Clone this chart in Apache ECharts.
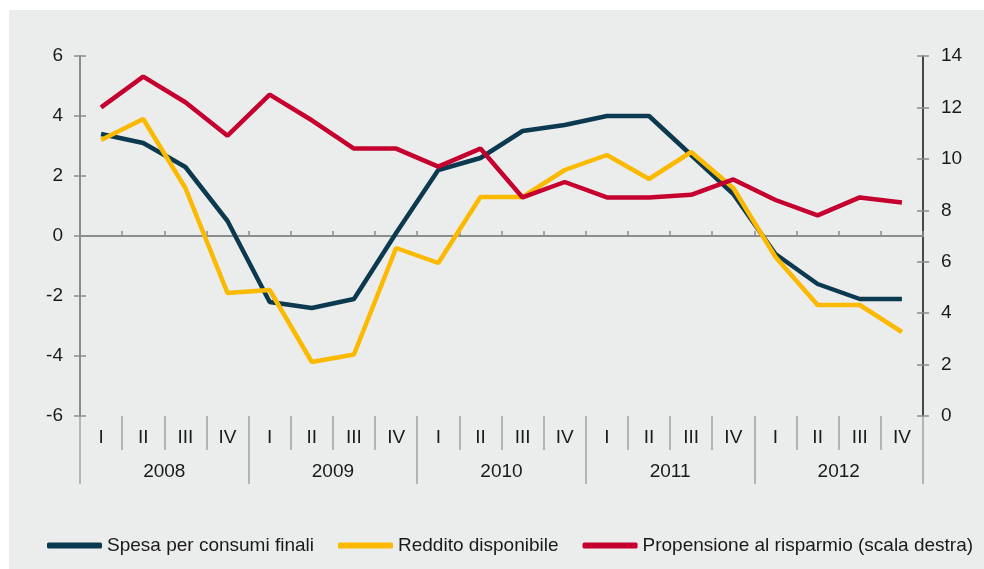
<!DOCTYPE html>
<html>
<head>
<meta charset="utf-8">
<script src="https://cdn.jsdelivr.net/npm/echarts@6/dist/echarts.min.js"></script>
<style>
  html, body { margin: 0; padding: 0; background: #fff; }
  #chart { width: 984px; height: 569px; }
</style>
</head>
<body>
<div id="chart"></div>
<script>
var quarters = ['I', 'II', 'III', 'IV', 'I', 'II', 'III', 'IV', 'I', 'II', 'III', 'IV',
                'I', 'II', 'III', 'IV', 'I', 'II', 'III', 'IV'];
var years = ['2008', '2009', '2010', '2011', '2012'];

// variazioni percentuali (scala sinistra)
var spesa = [3.4, 3.1, 2.3, 0.5, -2.2, -2.4, -2.1, 0.1, 2.2, 2.6, 3.5, 3.7,
             4.0, 4.0, 2.7, 1.4, -0.6, -1.6, -2.1, -2.1];
var reddito = [3.2, 3.9, 1.6, -1.9, -1.8, -4.2, -3.95, -0.4, -0.9, 1.3, 1.3, 2.2,
               2.7, 1.9, 2.8, 1.6, -0.7, -2.3, -2.3, -3.2];
// scala destra
var propensione = [12.0, 13.2, 12.2, 10.9, 12.5, 11.5, 10.4, 10.4, 9.7, 10.4, 8.5, 9.1,
                   8.5, 8.5, 8.6, 9.2, 8.4, 7.8, 8.5, 8.3];

var font = '"Liberation Sans", Arial, sans-serif';
var txt = '#1a1a1a';
var grey = '#8c8c8c';

var myChart = echarts.init(document.getElementById('chart'));

var option = {
    backgroundColor: '#fff',
    textStyle: { fontFamily: font },
    graphic: [{
        type: 'rect',
        z: -10,
        shape: { x: 9, y: 10, width: 975, height: 559 },
        style: { fill: '#ebecec' },
        silent: true
    }],
    grid: { left: 80, right: 61, top: 56, bottom: 153 },
    legend: {
        left: 47,
        top: 536,
        width: 937,
        padding: 0,
        icon: 'roundRect',
        itemWidth: 55,
        itemHeight: 6,
        itemGap: 24,
        textStyle: { fontSize: 19, color: txt, fontFamily: font },
        data: ['Spesa per consumi finali', 'Reddito disponibile', 'Propensione al risparmio (scala destra)']
    },
    xAxis: [
        {   // trimestri
            type: 'category',
            data: quarters,
            position: 'bottom',
            axisLine: { show: false, onZero: false },
            axisTick: { show: true, interval: 0, length: 34, lineStyle: { color: '#a0a0a0', width: 1.5 } },
            axisLabel: { interval: 0, margin: 12, fontSize: 19, color: txt, fontFamily: font },
            splitLine: { show: false }
        },
        {   // anni
            type: 'category',
            data: years,
            position: 'bottom',
            axisLine: { show: false, onZero: false },
            axisTick: { show: true, interval: 0, length: 68, lineStyle: { color: '#a0a0a0', width: 1.5 } },
            axisLabel: { interval: 0, margin: 46, fontSize: 19, color: txt, fontFamily: font },
            splitLine: { show: false }
        },
        {   // linea dello zero
            type: 'category',
            data: quarters,
            position: 'bottom',
            axisLine: { show: true, onZero: true, onZeroAxisIndex: 0, lineStyle: { color: grey, width: 2 } },
            axisTick: { show: true, inside: true, interval: 0, length: 5, lineStyle: { color: grey, width: 1.5 } },
            axisLabel: { show: false },
            splitLine: { show: false }
        }
    ],
    yAxis: [
        {
            type: 'value', position: 'left', min: -6, max: 6, interval: 2,
            axisLine: { show: true, lineStyle: { color: grey, width: 2 } },
            axisTick: { show: true, length: 6, lineStyle: { color: grey, width: 1.5 } },
            axisLabel: { margin: 17, fontSize: 19, color: txt, fontFamily: font },
            splitLine: { show: false }
        },
        {
            type: 'value', position: 'right', min: 0, max: 14, interval: 2,
            axisLine: { show: true, lineStyle: { color: '#111', width: 1.5 } },
            axisTick: { show: true, length: 6, lineStyle: { color: grey, width: 1.5 } },
            axisLabel: { margin: 18, fontSize: 19, color: txt, fontFamily: font },
            splitLine: { show: false }
        },
        {   // tacche interne sinistra
            type: 'value', position: 'left', min: -6, max: 6, interval: 2,
            axisLine: { show: false },
            axisTick: { show: true, inside: true, length: 6, lineStyle: { color: grey, width: 1.5 } },
            axisLabel: { show: false },
            splitLine: { show: false }
        },
        {   // tacche interne destra
            type: 'value', position: 'right', min: 0, max: 14, interval: 2,
            axisLine: { show: false },
            axisTick: { show: true, inside: true, length: 6, lineStyle: { color: grey, width: 1.5 } },
            axisLabel: { show: false },
            splitLine: { show: false }
        }
    ],
    series: [
        {
            name: 'Spesa per consumi finali',
            type: 'line',
            xAxisIndex: 0, yAxisIndex: 0,
            data: spesa,
            symbol: 'none',
            color: '#0b3a50',
            lineStyle: { width: 4.5, color: '#0b3a50' },
            z: 3
        },
        {
            name: 'Reddito disponibile',
            type: 'line',
            xAxisIndex: 0, yAxisIndex: 0,
            data: reddito,
            symbol: 'none',
            color: '#fbb900',
            lineStyle: { width: 4.5, color: '#fbb900' },
            z: 4
        },
        {
            name: 'Propensione al risparmio (scala destra)',
            type: 'line',
            xAxisIndex: 0, yAxisIndex: 1,
            data: propensione,
            symbol: 'none',
            color: '#c5002f',
            lineStyle: { width: 4.5, color: '#c5002f' },
            z: 5
        }
    ]
};

myChart.setOption(option);
</script>
</body>
</html>
